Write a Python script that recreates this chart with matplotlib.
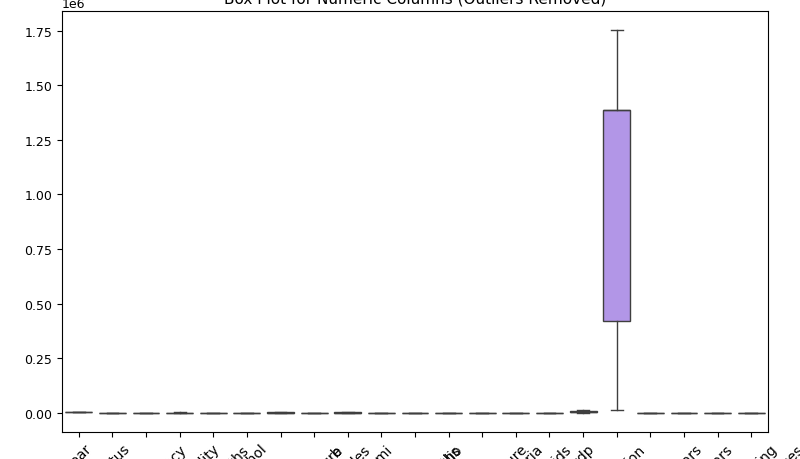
import numpy as np
import matplotlib.pyplot as plt
import seaborn as sns

# columns of the cleaned life-expectancy table
columns = ['year', 'status', 'life_expectancy', 'adult_mortality', 'infant_deaths',
           'alcohol', 'percentage_expenditure', 'hepatitis_b', 'measles', 'bmi',
           'under-five_deaths', 'polio', 'total_expenditure', 'diphtheria', 'hiv/aids',
           'gdp', 'population', 'thinness_1-19_years', 'thinness_5-9_years',
           'income_composition_of_resources', 'schooling']

# five-number summaries (outliers removed)
whislo = [2000, 0, 44.5, 1, 0, 0.01, 0, 58, 0, 1.4, 0, 50, 0.37, 50, 0.1,
          1.7, 14000, 0.1, 0.1, 0.25, 4.5]
q1 = [2004, 0, 63.2, 74, 0, 0.88, 4.7, 77, 0, 19.3, 0, 78, 4.26, 78, 0.1,
      463, 418917, 1.6, 1.6, 0.50, 10.3]
med = [2008, 1, 72.1, 144, 3, 3.75, 64.9, 92, 17, 43.5, 4, 93, 5.75, 93, 0.1,
       1766, 1386542, 3.3, 3.3, 0.677, 12.3]
q3 = [2012, 1, 75.7, 228, 22, 7.70, 441.5, 97, 360, 56.2, 28, 97, 7.49, 97, 0.8,
      5910, 1386542, 7.2, 7.2, 0.772, 14.1]
whishi = [2015, 1, 89, 459, 57, 17.87, 1096, 99, 900, 77.6, 70, 99, 11.6, 99, 1.9,
          12000, 1755000, 15.6, 15.9, 0.948, 20.7]

stats = []
for i, c in enumerate(columns):
    stats.append(dict(label=c, whislo=whislo[i], q1=q1[i], med=med[i],
                      q3=q3[i], whishi=whishi[i], fliers=[]))

colors = [sns.desaturate(c, 0.75) for c in sns.husl_palette(len(columns))]

fig = plt.figure(figsize=(8, 4.6), dpi=100)
ax = fig.add_axes([62 / 800, 27.3 / 460, 706 / 800, 421 / 460])

line = '#3f3f3f'
bp = ax.bxp(stats, positions=np.arange(len(columns)), widths=0.8,
            patch_artist=True, showfliers=False, capwidths=0.35,
            boxprops=dict(edgecolor=line, linewidth=1),
            whiskerprops=dict(color=line, linewidth=1),
            capprops=dict(color=line, linewidth=1),
            medianprops=dict(color=line, linewidth=1))
for patch, col in zip(bp['boxes'], colors):
    patch.set_facecolor(col)

ax.set_xlim(-0.5, len(columns) - 0.5)
ax.set_title('Box Plot for Numeric Columns (Outliers Removed)', fontsize=11)
ax.tick_params(axis='y', labelsize=9)
ax.tick_params(axis='x', labelsize=10)
plt.xticks(rotation=45)
ax.yaxis.get_offset_text().set_fontsize(9)

fig.savefig('out.png')
